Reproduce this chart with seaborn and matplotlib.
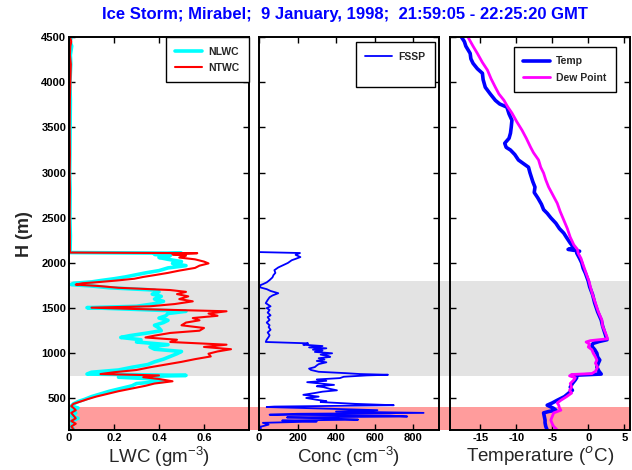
import numpy as np
import pandas as pd
import matplotlib
matplotlib.use('Agg')
import matplotlib.pyplot as plt
import matplotlib.transforms as mtransforms
from matplotlib.patches import Rectangle
import seaborn as sns

# ==============================================================================
# Profile data (height in m)
# ==============================================================================
lwc_h = [4500, 4450, 4400, 4300, 4200, 4000, 3800, 3500, 3200, 3000,
         2800, 2500, 2300, 2150, 2115, 2108, 2095, 2080, 2060, 2040,
         2015, 1995, 1970, 1945, 1915, 1890, 1865, 1845, 1825, 1805,
         1790, 1775, 1760, 1745, 1725, 1700, 1680, 1655, 1630, 1600,
         1575, 1545, 1520, 1505, 1490, 1465, 1440, 1415, 1390, 1365,
         1340, 1310, 1280, 1250, 1225, 1195, 1175, 1150, 1125, 1095,
         1070, 1045, 1020, 995, 965, 935, 905, 875, 845, 815,
         790, 770, 755, 735, 715, 690, 665, 640, 610, 580,
         550, 520, 490, 465, 440, 415, 395, 370, 340, 310,
         280, 250, 220, 190, 160]
nlwc = [0.010, 0.005, 0.012, 0.006, 0.008, 0.004, 0.006, 0.005, 0.004, 0.003,
        0.005, 0.004, 0.006, 0.005, 0.004, 0.50, 0.38, 0.45, 0.40, 0.44,
        0.50, 0.46, 0.52, 0.44, 0.40, 0.34, 0.29, 0.25, 0.20, 0.14,
        0.10, 0.02, 0.01, 0.10, 0.18, 0.38, 0.40, 0.37, 0.41, 0.38,
        0.42, 0.37, 0.30, 0.08, 0.25, 0.52, 0.44, 0.43, 0.40, 0.44,
        0.42, 0.38, 0.40, 0.41, 0.35, 0.27, 0.23, 0.32, 0.30, 0.44,
        0.36, 0.38, 0.50, 0.48, 0.45, 0.42, 0.38, 0.35, 0.28, 0.22,
        0.10, 0.08, 0.52, 0.22, 0.38, 0.42, 0.30, 0.28, 0.23, 0.18,
        0.14, 0.10, 0.07, 0.04, 0.02, 0.01, 0.04, 0.01, 0.03, 0.01,
        0.04, 0.01, 0.02, 0.01, 0.02]
ntwc = [0.005, 0.010, 0.006, 0.004, 0.008, 0.006, 0.004, 0.003, 0.004, 0.003,
        0.004, 0.003, 0.004, 0.004, 0.004, 0.57, 0.46, 0.52, 0.49, 0.56,
        0.60, 0.62, 0.58, 0.56, 0.49, 0.44, 0.38, 0.33, 0.29, 0.21,
        0.14, 0.06, 0.03, 0.13, 0.22, 0.45, 0.52, 0.48, 0.53, 0.49,
        0.55, 0.47, 0.36, 0.10, 0.30, 0.70, 0.62, 0.66, 0.55, 0.58,
        0.52, 0.50, 0.60, 0.58, 0.45, 0.38, 0.34, 0.48, 0.45, 0.70,
        0.60, 0.72, 0.66, 0.62, 0.63, 0.56, 0.50, 0.43, 0.36, 0.30,
        0.20, 0.14, 0.40, 0.33, 0.40, 0.46, 0.38, 0.34, 0.28, 0.22,
        0.17, 0.12, 0.08, 0.05, 0.02, 0.01, 0.02, 0.03, 0.01, 0.02,
        0.03, 0.01, 0.03, 0.01, 0.02]

fssp_h = [2120, 2110, 2090, 2065, 2045, 2030, 2000, 1975, 1950, 1920,
          1890, 1865, 1840, 1810, 1785, 1765, 1755, 1730, 1710, 1690,
          1665, 1640, 1620, 1590, 1555, 1520, 1500, 1480, 1450, 1420,
          1400, 1370, 1340, 1310, 1290, 1260, 1230, 1200, 1180, 1150,
          1125, 1110, 1095, 1080, 1065, 1055, 1040, 1030, 1015, 1000,
          985, 970, 960, 945, 930, 915, 900, 880, 865, 847,
          830, 815, 795, 780, 770, 762, 755, 740, 725, 710,
          695, 680, 665, 650, 635, 625, 605, 590, 575, 560,
          540, 520, 505, 485, 470, 460, 440, 425, 410, 405,
          390, 370, 355, 340, 330, 320, 310, 300, 290, 280,
          265, 255, 245, 230, 210, 185, 170]
fssp = [5, 213, 190, 215, 190, 170, 150, 125, 100, 80,
        85, 75, 70, 55, 40, 20, 8, 5, 40, 60,
        100, 70, 55, 45, 35, 60, 40, 55, 45, 60,
        45, 55, 40, 55, 50, 60, 45, 55, 50, 40,
        35, 255, 230, 330, 260, 350, 280, 330, 290, 380,
        320, 360, 370, 310, 340, 300, 350, 310, 300, 290,
        260, 270, 310, 450, 525, 670, 560, 440, 420, 300,
        350, 250, 320, 390, 300, 335, 370, 405, 330, 290,
        230, 310, 245, 300, 350, 320, 500, 700, 80, 40,
        300, 615, 400, 855, 200, 55, 680, 770, 145, 350,
        515, 120, 300, 20, 50, 5, 10]

temp_h = [4500, 4450, 4400, 4320, 4260, 4210, 4150, 4100, 4030, 3945,
          3870, 3800, 3760, 3725, 3650, 3580, 3500, 3437, 3380, 3325,
          3280, 3250, 3200, 3140, 3100, 3060, 3000, 2950, 2900, 2840,
          2780, 2720, 2650, 2590, 2550, 2500, 2440, 2380, 2330, 2280,
          2220, 2170, 2150, 2130, 2110, 2050, 2000, 1940, 1888, 1800,
          1735, 1650, 1555, 1460, 1368, 1300, 1224, 1150, 1130, 1110,
          1090, 1068, 1040, 1000, 960, 925, 890, 847, 800, 770,
          760, 755, 730, 705, 665, 625, 590, 560, 520, 480,
          450, 425, 390, 370, 355, 340, 300, 260, 230, 190,
          150]
temp = [-17.6, -17.2, -17.0, -16.4, -16.3, -16.0, -15.4, -14.7, -14.6, -14.3,
        -13.6, -12.9, -12.3, -11.3, -11.0, -10.6, -10.7, -10.8, -11.0, -11.6,
        -11.4, -10.8, -10.2, -9.7, -9.0, -8.3, -8.1, -7.9, -7.7, -7.4,
        -7.5, -7.0, -6.5, -6.2, -5.7, -5.2, -4.5, -4.0, -3.4, -3.0,
        -2.5, -2.0, -2.8, -1.2, -1.6, -1.2, -0.9, -0.7, -0.4, 0.0,
        0.2, 0.6, 0.9, 1.3, 1.8, 2.0, 2.3, 2.6, 1.5, 0.7,
        0.5, 0.6, 0.9, 1.2, 1.3, 1.6, 1.4, 1.2, 1.5, 1.8,
        -1.0, -2.3, -1.6, -1.8, -2.2, -2.5, -2.2, -2.7, -3.3, -4.3,
        -5.0, -5.7, -4.8, -4.5, -5.5, -6.2, -6.1, -6.0, -6.0, -5.9,
        -5.7]

dew_h = [4500, 4400, 4320, 4220, 4135, 4040, 3945, 3870, 3800, 3730,
         3660, 3560, 3470, 3380, 3280, 3220, 3140, 3060, 2995, 2920,
         2840, 2750, 2660, 2570, 2475, 2380, 2285, 2200, 2150, 2110,
         2050, 2000, 1888, 1800, 1735, 1650, 1555, 1460, 1368, 1300,
         1224, 1160, 1140, 1125, 1100, 1070, 1040, 1000, 960, 925,
         890, 847, 800, 775, 765, 750, 730, 705, 665, 625,
         590, 560, 520, 480, 450, 425, 395, 370, 340, 300,
         260, 220, 190, 150]
dew = [-16.7, -16.0, -15.4, -14.7, -14.0, -13.5, -12.9, -12.4, -11.7, -11.2,
       -10.6, -9.9, -9.2, -8.6, -8.0, -7.6, -6.9, -6.6, -6.2, -5.9,
       -5.5, -4.9, -4.3, -3.9, -3.4, -2.9, -2.5, -2.0, -1.5, -1.4,
       -1.0, -0.8, -0.3, 0.1, 0.3, 0.6, 1.0, 1.4, 1.9, 2.0,
       2.4, 2.7, 0.3, -0.3, 0.2, 0.0, 0.5, 0.7, 1.0, 1.2,
       1.0, 1.3, 1.0, 0.5, -2.3, -2.6, -1.8, -2.0, -2.5, -2.3,
       -2.6, -2.3, -3.0, -3.8, -4.3, -4.1, -4.0, -3.8, -4.8, -5.0,
       -5.2, -5.0, -4.8, -4.3]

# layer limits (m)
gray_layer = (750, 1800)
pink_layer = (150, 400)

df_lwc = pd.DataFrame({'H': lwc_h, 'NLWC': nlwc, 'NTWC': ntwc})
df_fssp = pd.DataFrame({'H': fssp_h, 'FSSP': fssp})
df_temp = pd.DataFrame({'H': temp_h, 'Temp': temp})
df_dew = pd.DataFrame({'H': dew_h, 'Dew Point': dew})

# ==============================================================================
# Figure
# ==============================================================================
sns.set_style('ticks')
plt.rcParams['font.family'] = ['Liberation Sans', 'DejaVu Sans']
plt.rcParams['mathtext.fontset'] = 'custom'
plt.rcParams['mathtext.rm'] = 'Liberation Sans'

fig = plt.figure(figsize=(6.32, 4.70), dpi=100)
bottom, height = 0.085, 0.836
ax1 = fig.add_axes([69 / 632, bottom, 180 / 632, height])
ax2 = fig.add_axes([259 / 632, bottom, 180 / 632, height])
ax3 = fig.add_axes([450 / 632, bottom, 180 / 632, height])
axes = [ax1, ax2, ax3]

sns.lineplot(data=df_lwc, x='NLWC', y='H', sort=False, estimator=None,
             color='cyan', lw=2.6, label='NLWC', ax=ax1)
sns.lineplot(data=df_lwc, x='NTWC', y='H', sort=False, estimator=None,
             color='red', lw=1.5, label='NTWC', ax=ax1)
sns.lineplot(data=df_fssp, x='FSSP', y='H', sort=False, estimator=None,
             color='blue', lw=1.3, label='FSSP', ax=ax2)
ax2.plot([], [], color='none', label=' ')  # empty second row in the legend box
sns.lineplot(data=df_temp, x='Temp', y='H', sort=False, estimator=None,
             color='blue', lw=2.6, label='Temp', ax=ax3)
sns.lineplot(data=df_dew, x='Dew Point', y='H', sort=False, estimator=None,
             color='magenta', lw=2.0, label='Dew Point', ax=ax3)

# shaded layers run across all three panels
trans = mtransforms.blended_transform_factory(fig.transFigure, ax1.transData)
x0, x1 = 68 / 632, 631 / 632
for (lo, hi), col in [(gray_layer, '#e3e3e3'), (pink_layer, '#ff9c9c')]:
    fig.patches.append(Rectangle((x0, lo), x1 - x0, hi - lo, transform=trans,
                                 facecolor=col, edgecolor='none', zorder=-1))

xlims = [(0, 0.8), (0, 935), (-19.2, 5.8)]
xticks = [[0, 0.2, 0.4, 0.6], [0, 200, 400, 600, 800], [-15, -10, -5, 0, 5]]
xticklabels = [['0', '0.2', '0.4', '0.6'], ['0', '200', '400', '600', '800'],
               ['-15', '-10', '-5', '0', '5']]
xlabels = ['LWC (gm$^{-3}$)', 'Conc (cm$^{-3}$)', 'Temperature ($^o$C)']
legend_anchor = [(1.0, 1.0), (0.978, 0.987), (0.922, 0.975)]

for i, ax in enumerate(axes):
    ax.set_facecolor('none')
    ax.set_xlim(xlims[i])
    ax.set_ylim(150, 4500)
    ax.set_xticks(xticks[i])
    ax.set_xticklabels(xticklabels[i], fontweight='bold', fontsize=8)
    ax.set_yticks(range(500, 4501, 500))
    if i == 0:
        ax.set_yticklabels([str(v) for v in range(500, 4501, 500)],
                           fontweight='bold', fontsize=8)
        ax.set_ylabel('H (m)', fontsize=13, fontweight='bold', labelpad=6)
    else:
        ax.set_yticklabels([])
        ax.set_ylabel('')
    ax.set_xlabel(xlabels[i], fontsize=13.5, labelpad=1)
    ax.tick_params(direction='in', top=True, right=True, length=4, width=1,
                   pad=2, colors='black')
    for sp in ax.spines.values():
        sp.set_visible(True)
        sp.set_linewidth(1.4)
        sp.set_color('black')
    leg = ax.legend(loc='upper right', bbox_to_anchor=legend_anchor[i],
                    frameon=True, fancybox=False, borderaxespad=0,
                    handlelength=2.6, labelspacing=0.6, borderpad=0.9,
                    handletextpad=0.6, prop={'weight': 'bold', 'size': 7.5})
    leg.get_frame().set_edgecolor('black')
    leg.get_frame().set_linewidth(1.0)
    leg.get_frame().set_alpha(1)

fig.text(0.546, 0.97, 'Ice Storm; Mirabel;  9 January, 1998;  21:59:05 - 22:25:20 GMT',
         color='blue', fontsize=12, fontweight='bold', ha='center', va='center')

plt.savefig('out.png', dpi=100)
plt.close(fig)
